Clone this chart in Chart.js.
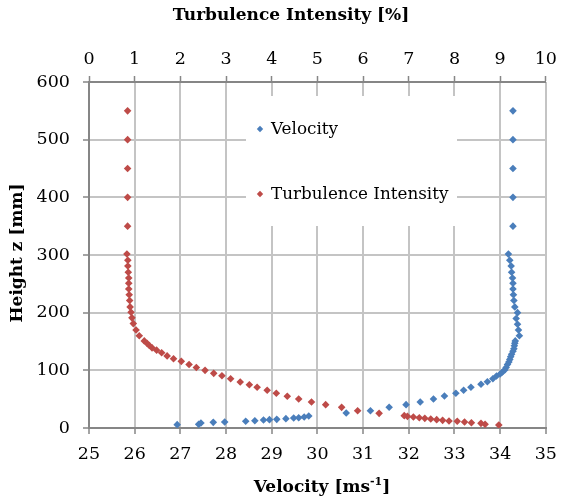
<!DOCTYPE html>
<html>
<head>
<meta charset="utf-8">
<style>
  html, body { margin: 0; padding: 0; background: #fff; }
  #wrap { width: 567px; height: 501px; }
</style>
<script src="https://cdn.jsdelivr.net/npm/chart.js@4/dist/chart.umd.min.js"></script>
</head>
<body>
<div id="wrap"><canvas id="profileChart" width="567" height="501"></canvas></div>
<script>
// Velocity profile [m/s] vs height [mm]
const velHeight = [5.8, 6.4, 8.6, 9.8, 10.4, 11.6, 12.7, 13.9, 14.5, 15, 16.2, 17.3, 17.9, 19, 20.8,
    26, 30, 36, 40.5, 45, 50.3, 55.5, 60.2, 65.4, 70.6, 75.8, 80.3, 85.5, 90.2, 93.6, 97, 100.6,
    105, 110, 114.5, 119, 123.6, 128, 133, 137.5, 142.7, 147, 151, 160, 170, 180, 190, 200, 210,
    221, 231, 241, 251, 260, 270, 281, 291, 301.6, 350, 400, 450, 500, 550];
const velocity = [26.93, 27.40, 27.45, 27.72, 27.97, 28.43, 28.63, 28.82, 28.95, 29.11, 29.31, 29.48, 29.59, 29.71, 29.81,
    30.63, 31.16, 31.57, 31.94, 32.25, 32.54, 32.78, 33.03, 33.20, 33.36, 33.58, 33.72, 33.84, 33.92, 34.00, 34.05, 34.10,
    34.13, 34.16, 34.19, 34.21, 34.23, 34.25, 34.28, 34.30, 34.31, 34.32, 34.33, 34.42, 34.40, 34.38, 34.35, 34.38, 34.32,
    34.30, 34.29, 34.28, 34.28, 34.27, 34.25, 34.24, 34.21, 34.18, 34.28, 34.28, 34.28, 34.28, 34.28];

// Turbulence intensity [%] vs height [mm]
const tiHeight = [5.2, 6.4, 8.1, 9.2, 10.4, 11.6, 12.1, 13.3, 14.5, 15.6, 16.7, 17.9, 19, 20.2, 21.4,
    25.4, 30, 35.8, 40.5, 45, 50.3, 55, 60.2, 65.4, 70.6, 75, 79.8, 85.5, 90.7, 94.8, 100,
    105, 110, 115.6, 120, 125, 130.6, 135, 139, 143, 147, 151, 160, 170, 181, 191, 200.6, 210,
    221, 231, 241, 251, 260, 270, 281, 291, 301.7, 350, 400, 450, 500, 550];
const turbIntensity = [8.97, 8.67, 8.58, 8.37, 8.22, 8.06, 7.88, 7.74, 7.61, 7.48, 7.35, 7.23, 7.10, 6.97, 6.90,
    6.35, 5.88, 5.53, 5.18, 4.87, 4.59, 4.34, 4.10, 3.90, 3.68, 3.51, 3.31, 3.10, 2.91, 2.73, 2.54,
    2.35, 2.19, 2.02, 1.85, 1.71, 1.59, 1.48, 1.38, 1.32, 1.27, 1.21, 1.10, 1.03, 0.97, 0.94, 0.92, 0.90,
    0.89, 0.88, 0.87, 0.87, 0.87, 0.86, 0.85, 0.85, 0.83, 0.845, 0.845, 0.845, 0.845, 0.845];

const velTicks = [25, 35];   // bottom axis range
const tiTicks = [0, 10];     // top axis range
const heightTicks = [0, 600];

const blue = '#4a7ebb';
const red = '#be4b48';
const gridColor = '#c4c4c4';
const axisColor = '#868686';
const serif = '"DejaVu Serif", "Liberation Serif", serif';

const toPoints = (xs, ys) => xs.map((v, i) => ({ x: v, y: ys[i] }));

function diamond(ctx, x, y, r, color) {
    ctx.beginPath();
    ctx.moveTo(x, y - r);
    ctx.lineTo(x + r, y);
    ctx.lineTo(x, y + r);
    ctx.lineTo(x - r, y);
    ctx.closePath();
    ctx.fillStyle = color;
    ctx.fill();
}

// white legend box sitting inside the plot, drawn over the grid
const legendBox = {
    id: 'legendBox',
    beforeDatasetsDraw(chart) {
        const ctx = chart.ctx;
        ctx.save();
        ctx.fillStyle = '#fff';
        ctx.fillRect(246, 96, 211, 130);
        ctx.font = '16.8px ' + serif;
        ctx.textBaseline = 'middle';
        ctx.textAlign = 'left';
        diamond(ctx, 260, 129, 3.2, blue);
        ctx.fillStyle = '#000';
        ctx.fillText(chart.data.datasets[0].label, 271, 130);
        diamond(ctx, 260, 194, 3.2, red);
        ctx.fillStyle = '#000';
        ctx.fillText(chart.data.datasets[1].label, 271, 195);
        ctx.restore();
    }
};

// axis titles (the bottom one needs a superscript)
const axisTitles = {
    id: 'axisTitles',
    afterDraw(chart) {
        const ctx = chart.ctx;
        const big = 'bold 17px ' + serif, small = 'bold 11px ' + serif;
        ctx.save();
        ctx.fillStyle = '#000';
        ctx.textBaseline = 'middle';
        ctx.font = big;
        ctx.textAlign = 'center';
        ctx.fillText('Turbulence Intensity [%]', 291, 16);

        const a = 'Velocity [ms', sup = '-1', b = ']';
        const wa = ctx.measureText(a).width;
        const wb = ctx.measureText(b).width;
        ctx.font = small;
        const ws = ctx.measureText(sup).width;
        const x = 322 - (wa + ws + wb) / 2;
        ctx.textAlign = 'left';
        ctx.font = big;
        ctx.fillText(a, x, 488);
        ctx.font = small;
        ctx.fillText(sup, x + wa, 482);
        ctx.font = big;
        ctx.fillText(b, x + wa + ws, 488);

        ctx.translate(18, 253);
        ctx.rotate(-Math.PI / 2);
        ctx.textAlign = 'center';
        ctx.fillText('Height z [mm]', 0, 0);
        ctx.restore();
    }
};

const tickFont = { family: serif, size: 17.5 };

new Chart(document.getElementById('profileChart'), {
    type: 'scatter',
    data: {
        datasets: [
            {
                label: 'Velocity',
                data: toPoints(velocity, velHeight),
                xAxisID: 'x',
                backgroundColor: blue,
                borderColor: blue,
                pointStyle: 'rectRot',
                pointRadius: 3.8,
                borderWidth: 0
            },
            {
                label: 'Turbulence Intensity',
                data: toPoints(turbIntensity, tiHeight),
                xAxisID: 'x2',
                backgroundColor: red,
                borderColor: red,
                pointStyle: 'rectRot',
                pointRadius: 3.8,
                borderWidth: 0
            }
        ]
    },
    options: {
        responsive: false,
        animation: false,
        layout: { padding: { left: 0, right: 13, top: 0, bottom: 0 } },
        plugins: { legend: { display: false }, tooltip: { enabled: false } },
        scales: {
            x: {
                type: 'linear',
                position: 'bottom',
                min: velTicks[0],
                max: velTicks[1],
                ticks: { stepSize: 1, color: '#000', font: tickFont, padding: 10, maxRotation: 0 },
                grid: { color: gridColor, lineWidth: 2, tickColor: axisColor, tickLength: 6, tickWidth: 1.5 },
                border: { color: axisColor, width: 2 },
                afterFit(scale) { scale.height = 73; }
            },
            x2: {
                type: 'linear',
                position: 'top',
                min: tiTicks[0],
                max: tiTicks[1],
                ticks: { stepSize: 1, color: '#000', font: tickFont, padding: 6, maxRotation: 0 },
                grid: { drawOnChartArea: false, tickColor: axisColor, tickLength: 6, tickWidth: 1.5 },
                border: { color: axisColor, width: 2 },
                afterFit(scale) { scale.height = 82; }
            },
            y: {
                type: 'linear',
                min: heightTicks[0],
                max: heightTicks[1],
                ticks: { stepSize: 100, color: '#000', font: tickFont, padding: 13 },
                grid: { color: gridColor, lineWidth: 2, tickColor: axisColor, tickLength: 6, tickWidth: 1.5 },
                border: { color: axisColor, width: 2 },
                afterFit(scale) { scale.width = 89; }
            }
        }
    },
    plugins: [legendBox, axisTitles]
});
</script>
</body>
</html>
